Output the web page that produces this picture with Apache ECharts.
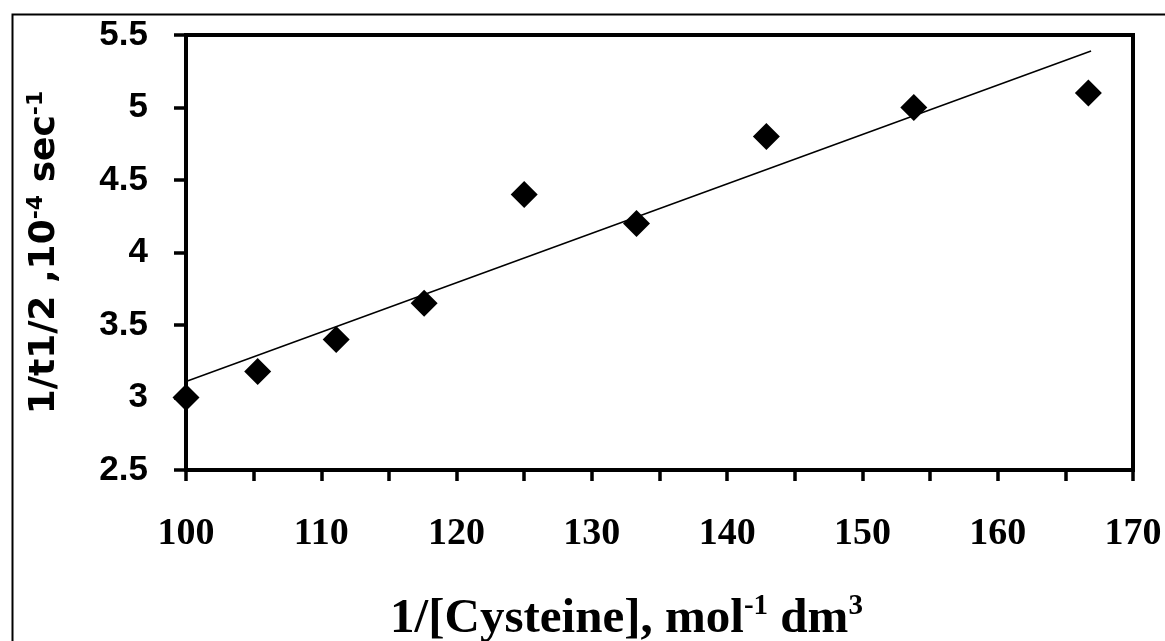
<!DOCTYPE html>
<html>
<head>
<meta charset="utf-8">
<script src="https://cdn.jsdelivr.net/npm/echarts@6/dist/echarts.min.js"></script>
<style>html,body{margin:0;padding:0;background:#fff;}#chart{width:1165px;height:641px;}</style>
</head>
<body>
<div id="chart"></div>
<script>
// Data
const xValues = [100, 105.3, 111.1, 117.6, 125, 133.3, 142.9, 153.8, 166.7];
const yValues = [3.0, 3.18, 3.4, 3.65, 4.4, 4.2, 4.8, 5.0, 5.1];
const trendX = [100, 166.9];
const trendY = [3.11, 5.39];
const xTicks = [100, 110, 120, 130, 140, 150, 160, 170];
const yTicks = [2.5, 3, 3.5, 4, 4.5, 5, 5.5];

const points = xValues.map((x, i) => [x, yValues[i]]);
const trend = trendX.map((x, i) => [x, trendY[i]]);

const chart = echarts.init(document.getElementById('chart'));
chart.setOption({
  animation: false,
  backgroundColor: '#fff',
  graphic: [{
    type: 'rect', left: 10, top: 12,
    shape: {width: 1200, height: 700},
    style: {fill: 'none', stroke: '#000', lineWidth: 2},
    silent: true, z: -1
  }],
  grid: {
    left: 186, right: 32, top: 35, bottom: 171,
    outerBoundsMode: 'none', containLabel: false,
    show: true, borderColor: '#000', borderWidth: 4, backgroundColor: 'transparent'
  },
  xAxis: {
    type: 'value', min: 100, max: 170, interval: 10,
    axisLine: {show: true, onZero: false, lineStyle: {color: '#000', width: 4}},
    axisTick: {show: true, length: 11, lineStyle: {color: '#000', width: 3.5}},
    minorTick: {show: true, splitNumber: 2, length: 11, lineStyle: {color: '#000', width: 3.5}},
    splitLine: {show: false},
    axisLabel: {
      margin: 45, color: '#000',
      fontFamily: 'Liberation Serif', fontWeight: 'bold', fontSize: 38,
      formatter: v => xTicks.includes(v) ? String(v) : ''
    },
    name: '{b|1/[Cysteine], mol}{s|-1}{b| dm}{s|3}',
    nameLocation: 'middle', nameGap: 122,
    nameTextStyle: {
      padding: [0, 66, 0, 0],
      rich: {
        b: {fontFamily: 'Liberation Serif', fontWeight: 'bold', fontSize: 49, color: '#000', verticalAlign: 'bottom', lineHeight: 52},
        s: {fontFamily: 'Liberation Serif', fontWeight: 'bold', fontSize: 29, color: '#000', verticalAlign: 'top', lineHeight: 52, padding: [0, 0, 23, 0]}
      }
    }
  },
  yAxis: {
    type: 'value', min: 2.5, max: 5.5, interval: 0.5,
    axisLine: {show: true, onZero: false, lineStyle: {color: '#000', width: 4}},
    axisTick: {show: true, length: 12, lineStyle: {color: '#000', width: 3.5}},
    splitLine: {show: false},
    axisLabel: {
      margin: 38, color: '#000',
      fontFamily: 'Liberation Sans', fontWeight: 'bold', fontSize: 35,
      formatter: v => yTicks.includes(v) ? String(v) : ''
    },
    name: '{b|1/t1/2 ,10}{s|-4}{b| sec}{s|-1}',
    nameLocation: 'middle', nameRotate: 90, nameGap: 120,
    nameTextStyle: {
      rich: {
        b: {fontFamily: 'DejaVu Sans', fontWeight: 'bold', fontSize: 36, color: '#000', lineHeight: 42},
        s: {fontFamily: 'DejaVu Sans', fontWeight: 'bold', fontSize: 22, color: '#000', lineHeight: 42, padding: [0, 0, 18, 0]}
      }
    }
  },
  series: [
    {
      type: 'line', data: trend, symbol: 'none',
      lineStyle: {color: '#000', width: 1.5}, z: 2
    },
    {
      type: 'scatter', data: points, symbol: 'diamond', symbolSize: 27,
      itemStyle: {color: '#000', opacity: 1}, z: 3
    }
  ]
});
</script>
</body>
</html>
